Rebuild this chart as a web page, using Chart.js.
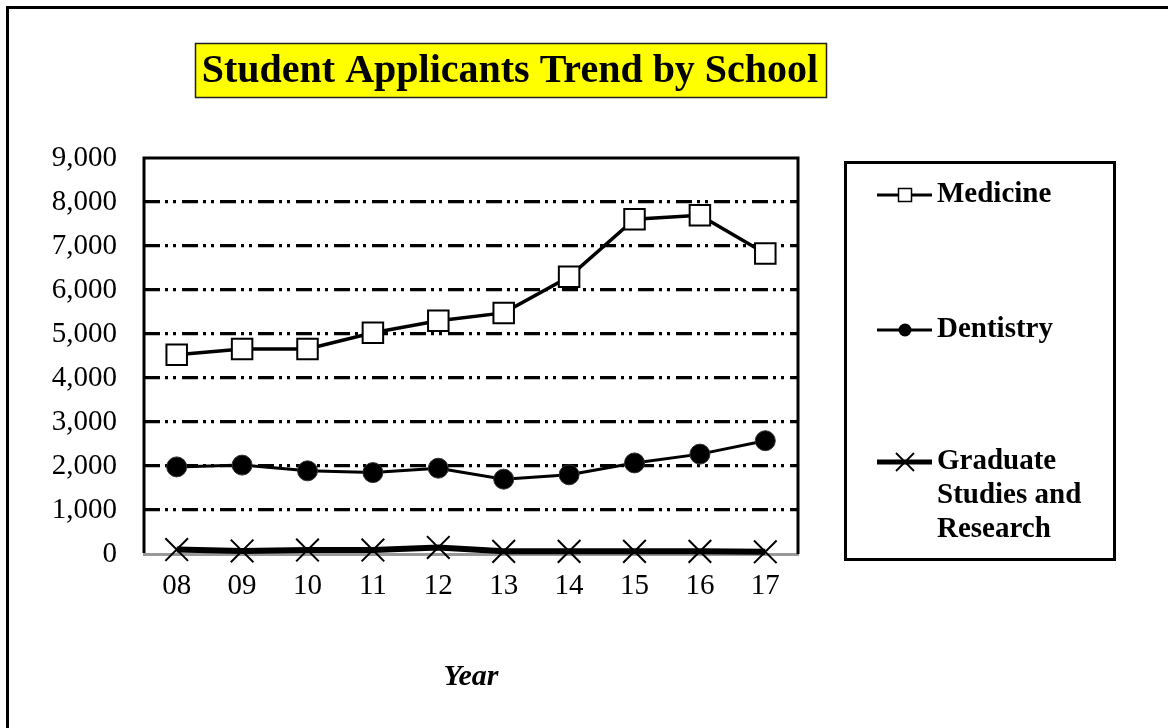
<!DOCTYPE html>
<html>
<head>
<meta charset="utf-8">
<title>Student Applicants Trend by School</title>
<script src="https://cdn.jsdelivr.net/npm/chart.js@4/dist/chart.umd.min.js"></script>
<style>
  html, body { margin: 0; padding: 0; background: #fff; }
  #wrap { position: relative; width: 1168px; height: 728px; }
</style>
</head>
<body>
<div id="wrap"><canvas id="trend" width="1168" height="728"></canvas></div>
<script>
// 数据
var years = ['08', '09', '10', '11', '12', '13', '14', '15', '16', '17'];
var medicine = [4530, 4660, 4660, 5030, 5300, 5480, 6300, 7610, 7700, 6830];
var dentistry = [1980, 2020, 1890, 1850, 1950, 1700, 1800, 2070, 2270, 2575];
var graduate = [100, 70, 90, 90, 150, 60, 60, 60, 60, 50];
var seriesNames = ['Medicine', 'Dentistry', 'Graduate Studies and Research'];
var legendLines = [['Medicine'], ['Dentistry'], ['Graduate', 'Studies and', 'Research']];
var yMin = 0, yMax = 9000, yStep = 1000;
var chartTitle = 'Student Applicants Trend by School';
var xTitle = 'Year';

var serif = '"Liberation Serif", "Times New Roman", serif';

// 外框 + 标题
var framePlugin = {
    id: 'frame',
    beforeDraw: function(chart){
        var ctx = chart.ctx;
        ctx.save();
        ctx.fillStyle = '#fff';
        ctx.fillRect(0, 0, chart.width, chart.height);
        ctx.strokeStyle = '#000';
        ctx.lineWidth = 3;
        ctx.strokeRect(7.5, 7.5, chart.width + 20, chart.height + 20);
        // 标题框
        ctx.fillStyle = '#ffff00';
        ctx.fillRect(195, 43, 632, 55);
        ctx.lineWidth = 1.5;
        ctx.strokeStyle = '#222';
        ctx.strokeRect(195.5, 43.5, 631, 54);
        ctx.fillStyle = '#000';
        ctx.font = 'bold 40px ' + serif;
        ctx.textAlign = 'center';
        ctx.textBaseline = 'middle';
        ctx.fillText(chartTitle, 510, 72);
        ctx.restore();
    },
    beforeDatasetsDraw: function(chart){
        var a = chart.chartArea, ctx = chart.ctx;
        ctx.save();
        ctx.strokeStyle = '#000';
        ctx.lineWidth = 3;
        ctx.beginPath();
        ctx.moveTo(a.left, a.bottom - 1);
        ctx.lineTo(a.left, a.top);
        ctx.lineTo(a.right, a.top);
        ctx.lineTo(a.right, a.bottom);
        ctx.stroke();
        ctx.restore();
    }
};

// 图例
var legendPlugin = {
    id: 'boxLegend',
    afterDraw: function(chart){
        var ctx = chart.ctx;
        var rowsY = [195, 330, 462];
        ctx.save();
        ctx.strokeStyle = '#000';
        ctx.lineWidth = 3;
        ctx.strokeRect(845.5, 162.5, 269, 397);
        ctx.font = 'bold 29px ' + serif;
        ctx.textAlign = 'left';
        ctx.textBaseline = 'middle';
        chart.data.datasets.forEach(function(ds, i){
            var y = rowsY[i];
            ctx.strokeStyle = '#000';
            ctx.lineWidth = i == 2 ? 5 : 3;
            ctx.beginPath();
            ctx.moveTo(877, y);
            ctx.lineTo(932, y);
            ctx.stroke();
            var cx = 905;
            if(ds.pointStyle == 'rect'){
                ctx.fillStyle = '#fff';
                ctx.lineWidth = 1.5;
                ctx.fillRect(cx - 6.5, y - 6.5, 13, 13);
                ctx.strokeRect(cx - 6.5, y - 6.5, 13, 13);
            }else if(ds.pointStyle == 'circle'){
                ctx.fillStyle = '#000';
                ctx.beginPath();
                ctx.arc(cx, y, 6.5, 0, Math.PI * 2);
                ctx.fill();
            }else{
                ctx.lineWidth = 1.8;
                ctx.beginPath();
                ctx.moveTo(cx - 9, y - 9); ctx.lineTo(cx + 9, y + 9);
                ctx.moveTo(cx + 9, y - 9); ctx.lineTo(cx - 9, y + 9);
                ctx.stroke();
            }
            ctx.fillStyle = '#000';
            legendLines[i].forEach(function(t, j){
                ctx.fillText(t, 937, y + j * 34);
            });
        });
        ctx.restore();
    }
};

new Chart(document.getElementById('trend'), {
    type: 'line',
    data: {
        labels: years,
        datasets: [{
            label: seriesNames[0],
            data: medicine,
            borderColor: '#000',
            borderWidth: 3.5,
            pointStyle: 'rect',
            pointRadius: 14.5,
            pointBackgroundColor: '#fff',
            pointBorderColor: '#000',
            pointBorderWidth: 2,
            tension: 0,
            clip: false
        }, {
            label: seriesNames[1],
            data: dentistry,
            borderColor: '#000',
            borderWidth: 3,
            pointStyle: 'circle',
            pointRadius: 10,
            pointBackgroundColor: '#000',
            pointBorderColor: '#333',
            pointBorderWidth: 1,
            tension: 0,
            clip: false
        }, {
            label: seriesNames[2],
            data: graduate,
            borderColor: '#000',
            borderWidth: 6,
            pointStyle: 'crossRot',
            pointRadius: 16,
            pointBorderColor: '#000',
            pointBorderWidth: 2,
            tension: 0,
            clip: false
        }]
    },
    options: {
        responsive: false,
        animation: false,
        events: [],
        layout: { padding: { left: 0, top: 158, right: 370, bottom: 0 } },
        plugins: {
            legend: { display: false },
            title: { display: false },
            tooltip: { enabled: false }
        },
        scales: {
            x: {
                offset: true,
                grid: { display: false, drawTicks: false },
                border: { display: true, color: '#999', width: 3 },
                ticks: { color: '#000', padding: 15, font: { family: serif, size: 29 } },
                title: {
                    display: true,
                    text: xTitle,
                    color: '#000',
                    padding: { top: 0, bottom: 33 },
                    font: { family: serif, size: 30, weight: 'bold', style: 'italic' }
                },
                afterFit: function(scale){ scale.height = 174; }
            },
            y: {
                min: yMin,
                max: yMax,
                grid: {
                    drawTicks: false,
                    lineWidth: 3.2,
                    color: function(c){ return (c.tick && (c.tick.value == yMin || c.tick.value == yMax)) ? 'rgba(0,0,0,0)' : '#000'; }
                },
                border: { display: false, color: '#000', width: 3, dash: [16, 5, 3, 5, 3, 6] },
                ticks: {
                    stepSize: yStep,
                    color: '#000',
                    padding: 27,
                    font: { family: serif, size: 29 },
                    callback: function(v){ return v.toLocaleString('en-US'); }
                },
                afterFit: function(scale){ scale.width = 144; }
            }
        }
    },
    plugins: [framePlugin, legendPlugin]
});
</script>
</body>
</html>
